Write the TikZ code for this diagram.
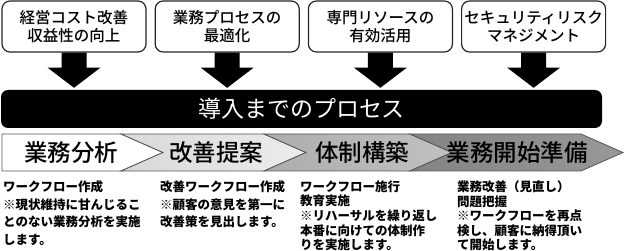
\documentclass[tikz,border=0pt]{standalone}
\usepackage{fontspec}
\newfontfamily\jpfont{Noto Sans CJK JP}
\newfontfamily\jpmed{Noto Sans CJK JP Medium}
\usetikzlibrary{positioning, calc}
\definecolor{StepLight}{HTML}{E4E4E4}
\definecolor{StepMid}{HTML}{B6B6B6}
\definecolor{StepDark}{HTML}{8A8A8A}
\definecolor{StepLine}{HTML}{555555}

\tikzset{
  goalbox/.style={draw=black!85, line width=1.2pt, rounded corners=8pt, fill=white,
    minimum width=144pt, minimum height=51pt, inner sep=0pt, align=center,
    font=\jpmed\fontsize{15.5}{18.5}\selectfont},
  blockarrow/.style={fill=black},
  chevron/.style={draw=StepLine, line width=0.8pt},
  steplabel/.style={font=\jpmed\fontsize{23.5}{26}\selectfont, inner sep=0pt},
  stepnote/.style={anchor=north west, inner sep=0pt, align=left,
    font=\jpfont\bfseries\fontsize{12.5}{17.5}\selectfont},
  stepnotetight/.style={stepnote, font=\jpfont\bfseries\fontsize{12.5}{14.6}\selectfont}
}

\begin{document}
\begin{tikzpicture}[x=1pt, y=-1pt]
    \useasboundingbox (0,0) rectangle (625,251);

    % Goals
    \node[goalbox] (need) at (74,26.5) {経営コスト改善\\収益性の向上};
    \node[goalbox, right=8pt of need] (flow) {業務プロセスの\\最適化};
    \node[goalbox, right=8pt of flow] (res) {専門リソースの\\有効活用};
    \node[goalbox, right=8pt of res] (risk) {セキュリティリスク\\マネジメント};

    % Process bar
    \node[fill=black, rounded corners=7pt, minimum width=601pt, minimum height=38pt,
          text=white, font=\jpfont\fontsize{23}{26}\selectfont] (proc) at (301.5,109) {導入までのプロセス};

    % Block arrows
    \foreach \bx in {need, flow, res, risk} {
        \fill[blockarrow] ($(\bx.south)+(-12.5,0)$) -- ++(0,15) -- ++(-14,0)
            -- ($(\bx.south |- proc.north)+(0,-2)$)
            -- ($(\bx.south)+(26.5,15)$) -- ++(-14,0) -- ++(0,-15) -- cycle;
    }

    % Steps
    \path[chevron, fill=white] (2,134) -- (121,134) -- (163,152.5) -- (121,171) -- (2,171) -- cycle;
    \path[chevron, left color=StepLight!95!black, right color=StepLight!70!white]
        (121,134) -- (264,134) -- (306,152.5) -- (264,171) -- (121,171) -- (163,152.5) -- cycle;
    \path[chevron, left color=StepMid!95!black, right color=StepMid!85!white]
        (264,134) -- (410,134) -- (452,152.5) -- (410,171) -- (264,171) -- (306,152.5) -- cycle;
    \path[chevron, left color=StepDark!95!black, right color=StepDark!88!white]
        (410,134) -- (581,134) -- (623,152.5) -- (581,171) -- (410,171) -- (452,152.5) -- cycle;

    \node[steplabel] (ana) at (71,152.5) {業務分析};
    \node[steplabel] (prop) at (216,152.5) {改善提案};
    \node[steplabel] (org) at (362,152.5) {体制構築};
    \node[steplabel] (prep) at (517,152.5) {業務開始準備};

    % Notes
    \node[stepnote] (ana-txt) at (3,180.5) {ワークフロー作成\\※現状維持に甘んじるこ\\とのない業務分析を実施\\します。};
    \node[stepnote] (prop-txt) at (160,180.5) {改善ワークフロー作成\\※顧客の意見を第一に\\改善策を見出します。};
    \node[stepnotetight] (org-txt) at (300,180.5) {ワークフロー施行\\教育実施\\※リハーサルを繰り返し\\本番に向けての体制作\\りを実施します。};
    \node[stepnotetight] (prep-txt) at (457,180.5) {業務改善（見直し）\\問題把握\\※ワークフローを再点\\検し、顧客に納得頂い\\て開始します。};
\end{tikzpicture}
\end{document}
